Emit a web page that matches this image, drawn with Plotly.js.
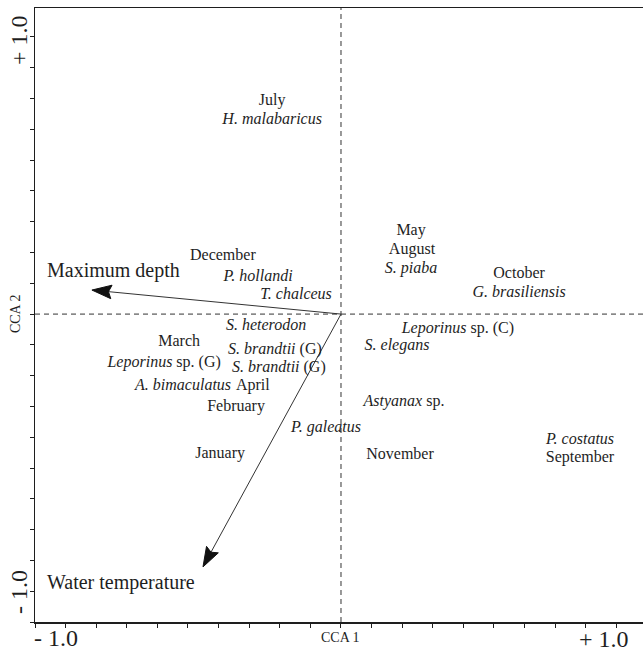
<!DOCTYPE html>
<html>
<head>
<meta charset="utf-8">
<script src="https://cdn.plot.ly/plotly-3.0.1.min.js"></script>
<style>
html,body{margin:0;padding:0;background:#fff;overflow:hidden;}
#chart{width:643px;height:652px;}
</style>
</head>
<body>
<div id="chart"></div>
<script>
// Sample (month) scores
const months = ['July','December','March','April','February','January','May','August','October','November','September'];
const monthX = [-0.225,-0.386,-0.529,-0.288,-0.343,-0.395,0.229,0.232,0.582,0.193,0.781];
const monthY = [0.692,0.188,-0.091,-0.234,-0.302,-0.455,0.269,0.208,0.130,-0.458,-0.468];

// Species scores
const species = ['<i>H. malabaricus</i>','<i>P. hollandi</i>','<i>T. chalceus</i>','<i>S. heterodon</i>',
  '<i>Leporinus</i> sp. (G)','<i>S. brandtii</i> (G)','<i>S. brandtii</i> (G)','<i>A. bimaculatus</i>',
  '<i>P. galeatus</i>','<i>S. piaba</i>','<i>G. brasiliensis</i>','<i>Leporinus</i> sp. (C)',
  '<i>S. elegans</i>','<i>Astyanax</i> sp.','<i>P. costatus</i>'];
const speciesX = [-0.225,-0.271,-0.147,-0.245,-0.578,-0.216,-0.203,-0.516,-0.049,0.229,0.582,0.382,0.183,0.206,0.781];
const speciesY = [0.630,0.120,0.062,-0.039,-0.159,-0.117,-0.175,-0.234,-0.370,0.146,0.068,-0.049,-0.104,-0.286,-0.409];

// Environmental variable arrows (tips)
const envVars = ['Maximum depth','Water temperature'];
const envX = [-0.814,-0.451];
const envY = [0.078,-0.821];

// Axis tick labels
const xTickLabels = ['- 1.0','+ 1.0'];
const yTickLabels = ['+ 1.0','- 1.0'];
const axisNames = ['CCA 1','CCA 2'];

const FONT = 'Liberation Serif';
const INK = '#1e1e1e';

const traces = [];
const headL = 0.064, headW = 0.022;
envX.forEach((tx, i) => {
  const ty = envY[i];
  const len = Math.hypot(tx, ty);
  const ux = tx/len, uy = ty/len;
  const bx = tx - headL*ux, by = ty - headL*uy;
  const nx = -uy, ny = ux;
  traces.push({x:[0,bx+0.2*headL*ux], y:[0,by+0.2*headL*uy], mode:'lines', line:{color:'#333',width:1}, hoverinfo:'skip', showlegend:false});
  traces.push({x:[tx,bx+headW*nx,bx+0.15*headL*ux,bx-headW*nx,tx],
               y:[ty,by+headW*ny,by+0.15*headL*uy,by-headW*ny,ty],
               mode:'lines', fill:'toself', fillcolor:'#111', line:{color:'#111',width:1},
               hoverinfo:'skip', showlegend:false});
});

traces.push({x:monthX, y:monthY, text:months, mode:'text', textposition:'middle center',
  textfont:{family:FONT,size:16,color:INK}, hoverinfo:'skip', showlegend:false, cliponaxis:false});
traces.push({x:speciesX, y:speciesY, text:species, mode:'text', textposition:'middle center',
  textfont:{family:FONT,size:16,color:INK}, hoverinfo:'skip', showlegend:false, cliponaxis:false});

const annotations = [
  {x:envX[0], y:envY[0], xref:'x', yref:'y', text:envVars[0], showarrow:false, xanchor:'left', yanchor:'middle',
   xshift:-47, yshift:20, font:{family:FONT,size:20,color:INK}},
  {x:envX[1], y:envY[1], xref:'x', yref:'y', text:envVars[1], showarrow:false, xanchor:'left', yanchor:'middle',
   xshift:-158, yshift:-16, font:{family:FONT,size:20,color:INK}},
  {x:0, y:0, xref:'paper', yref:'paper', text:xTickLabels[0], showarrow:false, xanchor:'left', yanchor:'middle',
   xshift:-3, yshift:-16, font:{family:FONT,size:24,color:INK}},
  {x:1, y:0, xref:'paper', yref:'paper', text:xTickLabels[1], showarrow:false, xanchor:'right', yanchor:'middle',
   xshift:-12, yshift:-17, font:{family:FONT,size:24,color:INK}},
  {x:0, y:0.948, xref:'paper', yref:'paper', text:yTickLabels[0], showarrow:false, xanchor:'center', yanchor:'middle',
   xshift:-16, textangle:-90, font:{family:FONT,size:24,color:INK}},
  {x:0, y:0.049, xref:'paper', yref:'paper', text:yTickLabels[1], showarrow:false, xanchor:'center', yanchor:'middle',
   xshift:-16, textangle:-90, font:{family:FONT,size:24,color:INK}},
  {x:0, y:0, xref:'x', yref:'paper', text:axisNames[0], showarrow:false, xanchor:'center', yanchor:'middle',
   yshift:-15, font:{family:FONT,size:14,color:INK}},
  {x:0, y:0, xref:'paper', yref:'y', text:axisNames[1], showarrow:false, xanchor:'center', yanchor:'middle',
   xshift:-20, textangle:-90, font:{family:FONT,size:14,color:INK}}
];

const shapes = [
  {type:'line', xref:'x', yref:'paper', x0:0, x1:0, y0:0, y1:1, line:{color:'#333',width:1,dash:'5px,4px'}},
  {type:'line', xref:'paper', yref:'y', x0:0, x1:1, y0:0, y1:0, line:{color:'#333',width:1,dash:'5px,4px'}}
];

const axisCommon = {showgrid:false, zeroline:false, showticklabels:false, ticks:'outside', ticklen:4,
  tickwidth:1, tickcolor:INK, showline:true, linecolor:INK, linewidth:1.5, tick0:-1, dtick:0.1, fixedrange:true};

const layout = {
  width:643, height:652,
  margin:{l:35, r:0, t:8, b:30},
  paper_bgcolor:'#fff', plot_bgcolor:'#fff',
  xaxis:Object.assign({}, axisCommon, {range:[-1,0.987], mirror:true}),
  yaxis:Object.assign({}, axisCommon, {range:[-1,0.994]}),
  annotations:annotations, shapes:shapes, showlegend:false
};

Plotly.newPlot('chart', traces, layout, {staticPlot:true, displayModeBar:false});
</script>
</body>
</html>
